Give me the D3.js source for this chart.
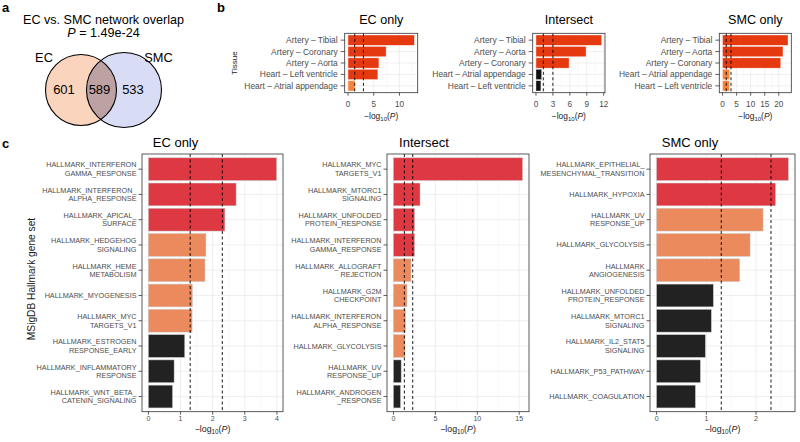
<!DOCTYPE html>
<html><head><meta charset="utf-8">
<script src="https://cdn.jsdelivr.net/npm/d3@7"></script>
<style>
body{margin:0;background:#fff}
svg{font-family:"Liberation Sans",Arial,Helvetica,sans-serif;display:block}
</style></head><body>
<svg id="c" width="800" height="442"></svg>
<script>
// ---------- DATA ----------
// Venn (panel a)
const vennSets = ["EC", "SMC"];
const vennCounts = [601, 589, 533]; // EC only, both, SMC only
const vennTitle = "EC vs. SMC network overlap";
const vennP = "1.49e-24";

// Panel b: tissue enrichment
const bTitles = ["EC only", "Intersect", "SMC only"];
const bTissueEC = ["Artery – Tibial", "Artery – Coronary", "Artery – Aorta", "Heart – Left ventricle", "Heart – Atrial appendage"];
const bValEC = [12.9, 7.4, 6.0, 5.8, 1.35];
const bTissueInt = ["Artery – Tibial", "Artery – Aorta", "Artery – Coronary", "Heart – Atrial appendage", "Heart – Left ventricle"];
const bValInt = [11.65, 8.87, 5.86, 1.0, 0.87];
const bTissueSMC = ["Artery – Tibial", "Artery – Aorta", "Artery – Coronary", "Heart – Atrial appendage", "Heart – Left ventricle"];
const bValSMC = [23.3, 21.5, 20.7, 2.5, 2.4];
const bTicksEC = [0, 5, 10];
const bTicksInt = [0, 3, 6, 9, 12];
const bTicksSMC = [0, 5, 10, 15, 20];
const bThresholds = [1.3, 3.0];

// Panel c: hallmark gene sets
const cTitles = ["EC only", "Intersect", "SMC only"];
const cSetEC = ["HALLMARK_INTERFERON\nGAMMA_RESPONSE", "HALLMARK_INTERFERON_\nALPHA_RESPONSE", "HALLMARK_APICAL_\nSURFACE", "HALLMARK_HEDGEHOG\nSIGNALING", "HALLMARK_HEME\nMETABOLISM", "HALLMARK_MYOGENESIS", "HALLMARK_MYC\nTARGETS_V1", "HALLMARK_ESTROGEN\nRESPONSE_EARLY", "HALLMARK_INFLAMMATORY\nRESPONSE", "HALLMARK_WNT_BETA_\nCATENIN_SIGNALING"];
const cValEC = [3.99, 2.73, 2.38, 1.79, 1.76, 1.37, 1.36, 1.13, 0.80, 0.75];
const cSetInt = ["HALLMARK_MYC\nTARGETS_V1", "HALLMARK_MTORC1\nSIGNALING", "HALLMARK_UNFOLDED\nPROTEIN_RESPONSE", "HALLMARK_INTERFERON\nGAMMA_RESPONSE", "HALLMARK_ALLOGRAFT\nREJECTION", "HALLMARK_G2M\nCHECKPOINT", "HALLMARK_INTERFERON\nALPHA_RESPONSE", "HALLMARK_GLYCOLYSIS", "HALLMARK_UV\nRESPONSE_UP", "HALLMARK_ANDROGEN\n_RESPONSE"];
const cValInt = [15.4, 3.17, 2.52, 2.52, 2.09, 1.61, 1.44, 1.37, 0.92, 0.84];
const cSetSMC = ["HALLMARK_EPITHELIAL_\nMESENCHYMAL_TRANSITION", "HALLMARK_HYPOXIA", "HALLMARK_UV\nRESPONSE_UP", "HALLMARK_GLYCOLYSIS", "HALLMARK\nANGIOGENESIS", "HALLMARK_UNFOLDED\nPROTEIN_RESPONSE", "HALLMARK_MTORC1\nSIGNALING", "HALLMARK_IL2_STAT5\nSIGNALING", "HALLMARK_P53_PATHWAY", "HALLMARK_COAGULATION"];
const cValSMC = [2.65, 2.39, 2.14, 1.88, 1.67, 1.14, 1.10, 0.98, 0.88, 0.78];
const cTicksEC = [0, 1, 2, 3, 4];
const cTicksInt = [0, 5, 10, 15];
const cTicksSMC = [0, 1, 2];
const cThresholds = [1.3, 2.3];

// ---------- DRAW ----------
const svg = d3.select("#c");

// font size such that a sample string spans a target width
function fitSize(str, target) {
  const t = svg.append("text").attr("font-size", 10).text(str);
  const w = t.node().getComputedTextLength();
  t.remove();
  return 10 * target / w;
}
const bLabSize = fitSize("Heart – Atrial appendage", 93.5);
const cLabSize = fitSize("HALLMARK_INFLAMMATORY", 100);
const cYTitleSize = 10.2;
const tissueSize = 8;

function colorFor(v, th, pal) {
  if (v > th[1]) return pal[0];
  if (v > th[0]) return pal[1];
  return pal[2];
}

function xTitle(g, x, y, size) {
  const t = g.append("text").attr("x", x).attr("y", y).attr("text-anchor", "middle")
    .attr("font-size", size).attr("fill", "#1a1a1a");
  t.append("tspan").text("−log");
  t.append("tspan").attr("font-size", size * 0.72).attr("dy", size * 0.28).text("10");
  t.append("tspan").attr("dy", -size * 0.28).text("(");
  t.append("tspan").attr("font-style", "italic").text("P");
  t.append("tspan").text(")");
}

function barPanel(opt) {
  const g = svg.append("g");
  const maxV = d3.max(opt.values);
  const x = d3.scaleLinear().domain([-0.05 * maxV, maxV * 1.05]).range([opt.x0, opt.x1]);
  const y = d3.scalePoint().domain(opt.cats).range([opt.y0, opt.y1]).padding(0.6);
  const step = y.step();
  // minor grid
  const ticks = opt.ticks;
  const dt = ticks[1] - ticks[0];
  const minor = [];
  for (let v = ticks[0] - dt / 2; v <= x.domain()[1]; v += dt) if (v >= x.domain()[0] && !ticks.includes(v)) minor.push(v);
  g.selectAll(null).data(minor).enter().append("line")
    .attr("x1", d => x(d)).attr("x2", d => x(d)).attr("y1", opt.y0).attr("y2", opt.y1)
    .attr("stroke", "#f2f2f2").attr("stroke-width", 0.5);
  g.selectAll(null).data(ticks).enter().append("line")
    .attr("x1", d => x(d)).attr("x2", d => x(d)).attr("y1", opt.y0).attr("y2", opt.y1)
    .attr("stroke", "#ebebeb").attr("stroke-width", 0.8);
  g.selectAll(null).data(opt.cats).enter().append("line")
    .attr("x1", opt.x0).attr("x2", opt.x1).attr("y1", d => y(d)).attr("y2", d => y(d))
    .attr("stroke", "#ebebeb").attr("stroke-width", 0.8);
  // bars
  const bh = step * 0.9;
  g.selectAll(null).data(opt.values).enter().append("rect")
    .attr("x", x(0)).attr("y", (d, i) => y(opt.cats[i]) - bh / 2)
    .attr("width", d => x(d) - x(0)).attr("height", bh)
    .attr("fill", d => colorFor(d, opt.th, opt.pal))
    .attr("stroke", opt.stroke).attr("stroke-width", 0.6);
  // thresholds
  g.selectAll(null).data(opt.th).enter().append("line")
    .attr("x1", d => x(d)).attr("x2", d => x(d)).attr("y1", opt.y0).attr("y2", opt.y1)
    .attr("stroke", "#000").attr("stroke-width", 0.9).attr("stroke-dasharray", "3,2.5");
  // border
  g.append("rect").attr("x", opt.x0).attr("y", opt.y0).attr("width", opt.x1 - opt.x0).attr("height", opt.y1 - opt.y0)
    .attr("fill", "none").attr("stroke", "#333").attr("stroke-width", 0.8);
  // x ticks
  g.selectAll(null).data(ticks).enter().append("line")
    .attr("x1", d => x(d)).attr("x2", d => x(d)).attr("y1", opt.y1).attr("y2", opt.y1 + 3)
    .attr("stroke", "#333").attr("stroke-width", 0.8);
  g.selectAll(null).data(ticks).enter().append("text")
    .attr("x", d => x(d)).attr("y", opt.tickY).attr("text-anchor", "middle")
    .attr("font-size", opt.tickSize).attr("fill", "#4d4d4d").text(d => d);
  // y ticks and labels
  g.selectAll(null).data(opt.cats).enter().append("line")
    .attr("x1", opt.x0 - opt.tickLen).attr("x2", opt.x0).attr("y1", d => y(d)).attr("y2", d => y(d))
    .attr("stroke", "#333").attr("stroke-width", 0.8);
  opt.cats.forEach((c) => {
    const lines = c.split("\n");
    const t = g.append("text").attr("text-anchor", "end").attr("font-size", opt.labSize).attr("fill", "#4d4d4d");
    const lh = opt.labSize * opt.lineH;
    const top = y(c) - (lines.length - 1) * lh / 2 + opt.labSize * 0.35;
    lines.forEach((l, k) => t.append("tspan").attr("x", opt.x0 - opt.labGap).attr("y", top + k * lh).text(l));
  });
  // title
  g.append("text").attr("x", opt.titleX != null ? opt.titleX : (opt.x0 + opt.x1) / 2).attr("y", opt.titleY)
    .attr("text-anchor", "middle").attr("font-size", opt.titleSize).attr("fill", "#000").text(opt.title);
  xTitle(g, (opt.x0 + opt.x1) / 2, opt.axisTitleY, opt.axisTitleSize);
}

const palB = ["#e5390f", "#f5843a", "#111111"];
const palC = ["#de3943", "#eb8a5c", "#222222"];

// panel b
const bRects = [[344.7, 417.7], [532.7, 605], [719.3, 791.3]];
const bCats = [bTissueEC, bTissueInt, bTissueSMC];
const bVals = [bValEC, bValInt, bValSMC];
const bTicks = [bTicksEC, bTicksInt, bTicksSMC];
for (let k = 0; k < 3; k++) {
  barPanel({ x0: bRects[k][0], x1: bRects[k][1], y0: 33.3, y1: 92.7, cats: bCats[k], values: bVals[k],
    ticks: bTicks[k], th: bThresholds, pal: palB, stroke: "rgba(255,255,255,0.6)",
    tickY: 107, tickSize: 8.2, labSize: bLabSize, lineH: 1.1, tickLen: 4, labGap: 7,
    title: bTitles[k], titleY: 24, titleSize: 12.6, axisTitleY: 118.5, axisTitleSize: 8.4 });
}
// panel c
const cRects = [[142, 283], [387, 529], [650, 795]];
const cCats = [cSetEC, cSetInt, cSetSMC];
const cVals = [cValEC, cValInt, cValSMC];
const cTicks = [cTicksEC, cTicksInt, cTicksSMC];
const cTitleX = [175.5, 424, 690];
for (let k = 0; k < 3; k++) {
  barPanel({ x0: cRects[k][0], x1: cRects[k][1], y0: 154, y1: 411.7, cats: cCats[k], values: cVals[k],
    ticks: cTicks[k], th: cThresholds, pal: palC, stroke: "rgba(200,200,200,0.8)",
    tickY: 420.5, tickSize: 7, labSize: cLabSize, lineH: 1.17, tickLen: 3.5, labGap: 5.5,
    title: cTitles[k], titleX: cTitleX[k], titleY: 147, titleSize: 13, axisTitleY: 432, axisTitleSize: 8.8 });
}

// y-axis titles
svg.append("text").attr("transform", "translate(236.5,63) rotate(-90)").attr("text-anchor", "middle")
  .attr("font-size", tissueSize).attr("fill", "#1a1a1a").text("Tissue");
svg.append("text").attr("transform", "translate(35,279) rotate(-90)").attr("text-anchor", "middle")
  .attr("font-size", cYTitleSize).attr("fill", "#1a1a1a").text("MSigDB Hallmark gene set");

// panel labels
[["a", 2, 12], ["b", 217, 12], ["c", 2, 148]].forEach(([t, x, y]) => {
  svg.append("text").attr("x", x).attr("y", y).attr("font-size", 13).attr("font-weight", "bold").text(t);
});

// ---------- Venn ----------
const vg = svg.append("g");
const circles = [{ cx: 81, cy: 90, r: 35.5, fill: "#fad4bd" }, { cx: 124, cy: 90, r: 37.5, fill: "#d8dcf5" }];
vg.selectAll(null).data(circles).enter().append("circle")
  .attr("cx", d => d.cx).attr("cy", d => d.cy).attr("r", d => d.r).attr("fill", d => d.fill);
svg.append("defs").append("clipPath").attr("id", "ecClip").append("circle")
  .attr("cx", circles[0].cx).attr("cy", circles[0].cy).attr("r", circles[0].r);
vg.append("circle").attr("cx", circles[1].cx).attr("cy", circles[1].cy).attr("r", circles[1].r)
  .attr("fill", "#bda2a3").attr("clip-path", "url(#ecClip)");
vg.selectAll(null).data(circles).enter().append("circle")
  .attr("cx", d => d.cx).attr("cy", d => d.cy).attr("r", d => d.r).attr("fill", "none")
  .attr("stroke", "#000").attr("stroke-width", 1.1);
vg.append("text").attr("x", 103.5).attr("y", 24).attr("text-anchor", "middle").attr("font-size", 12.6).text(vennTitle);
const pt = vg.append("text").attr("x", 103.5).attr("y", 37).attr("text-anchor", "middle").attr("font-size", 12.6);
pt.append("tspan").attr("font-style", "italic").text("P");
pt.append("tspan").text(" = " + vennP);
vg.append("text").attr("x", 44).attr("y", 62).attr("text-anchor", "middle").attr("font-size", 12.8).text(vennSets[0]);
vg.append("text").attr("x", 158.5).attr("y", 62).attr("text-anchor", "middle").attr("font-size", 12.8).text(vennSets[1]);
const numX = [64, 99.5, 133];
vennCounts.forEach((v, i) => {
  vg.append("text").attr("x", numX[i]).attr("y", 93.5).attr("text-anchor", "middle").attr("font-size", 13).text(v);
});
</script>
</body></html>
